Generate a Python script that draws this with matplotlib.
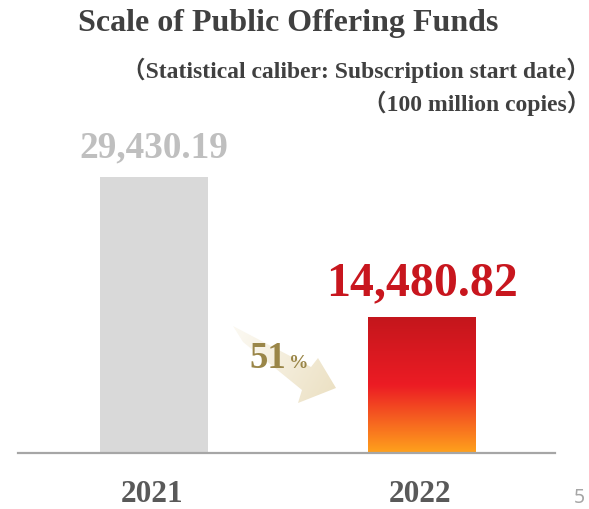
import numpy as np
import matplotlib
matplotlib.use("Agg")
import matplotlib.pyplot as plt
from matplotlib.colors import LinearSegmentedColormap, to_rgb
from matplotlib.patches import Polygon

# ---- data ----
years = ["2021", "2022"]
scale_values = [29430.19, 14480.82]
value_labels = ["29,430.19", "14,480.82"]
decline_pct = "51"
title = "Scale of Public Offering Funds"
subtitle = "（Statistical caliber: Subscription start date）"
unit_note = "（100 million copies）"
page_number = "5"

W, H = 589, 509
fig = plt.figure(figsize=(W / 100, H / 100), dpi=100)
fig.patch.set_facecolor("white")

SERIF = ["Liberation Serif", "Noto Sans CJK SC", "DejaVu Serif"]

# ---- bar axes ----
ax = fig.add_axes([18 / W, (H - 453) / H, (555 - 18) / W, (453 - 100) / H])
ax.set_facecolor("none")
x = np.arange(len(years))
bars = ax.bar(x, scale_values, width=0.402, color=["#D9D9D9", "none"],
              linewidth=0, zorder=2)

# vertical red-to-orange gradient inside the 2022 bar
grad = LinearSegmentedColormap.from_list(
    "redorange", [(0.0, "#FFA21C"), (0.5, "#EC1C24"), (1.0, "#C4161C")])
b = bars[1]
ramp = np.linspace(0, 1, 256).reshape(-1, 1)
im = ax.imshow(ramp, cmap=grad, origin="lower", aspect="auto",
               extent=(b.get_x(), b.get_x() + b.get_width(), 0, b.get_height()),
               zorder=2, interpolation="bilinear")
im.set_clip_path(b)

ax.set_xlim(-0.507, 1.494)
ax.set_ylim(0, max(scale_values) * 353 / 276)

for side in ("top", "left", "right"):
    ax.spines[side].set_visible(False)
ax.spines["bottom"].set_color("#A6A6A6")
ax.spines["bottom"].set_linewidth(1.6)
ax.set_xticks([])
ax.set_yticks([])

# value labels above the bars
label_colors = ["#BFBFBF", "#C8161E"]
label_sizes = [26.8, 34.5]
label_offsets = [14.4, 15.8]
for xi, v, txt, c, s, off in zip(x, scale_values, value_labels,
                                  label_colors, label_sizes, label_offsets):
    ax.annotate(txt, xy=(xi, v), xytext=(0, off), textcoords="offset points",
                ha="center", va="baseline", fontsize=s, fontweight="bold",
                color=c, family=SERIF)

# year labels under the baseline
for xi, yr in zip(x, years):
    ax.annotate(yr, xy=(xi, 0), xytext=(-1.5, -35.2), textcoords="offset points",
                ha="center", va="baseline", fontsize=22.5, fontweight="bold",
                color="#595959", family=SERIF, annotation_clip=False)

# ---- overlay for headings and the decline arrow ----
ov = fig.add_axes([0, 0, 1, 1])
ov.set_xlim(0, W)
ov.set_ylim(H, 0)
ov.axis("off")
ov.set_facecolor("none")

ov.text(78, 31, title, ha="left", va="baseline", fontsize=23,
        fontweight="bold", color="#404040", family=SERIF)
ov.text(590, 78, subtitle, ha="right", va="baseline", fontsize=17,
        fontweight="bold", color="#404040", family=SERIF)
ov.text(590, 111, unit_note, ha="right", va="baseline", fontsize=17,
        fontweight="bold", color="#404040", family=SERIF)

# beige arrow fading towards its tail
arrow_pts = np.array([(233, 326), (311, 367), (318, 358), (336, 388),
                      (298, 403), (302, 390), (243, 342)])
poly = Polygon(arrow_pts, closed=True, facecolor="none", edgecolor="none")
ov.add_patch(poly)
x0, x1 = arrow_pts[:, 0].min() - 2, arrow_pts[:, 0].max() + 2
y0, y1 = arrow_pts[:, 1].min() - 2, arrow_pts[:, 1].max() + 2
gx, gy = np.meshgrid(np.linspace(x0, x1, 200), np.linspace(y0, y1, 200))
tail = np.array([238.0, 334.0])
tip = np.array([336.0, 390.0])
d = tip - tail
t = ((gx - tail[0]) * d[0] + (gy - tail[1]) * d[1]) / (d @ d)
t = np.clip(t, 0, 1)[..., None]
c_tail = np.array(to_rgb("#FBF8F0"))
c_head = np.array(to_rgb("#ECE1C4"))
rgb = c_tail * (1 - t) + c_head * t
aim = ov.imshow(rgb, extent=(x0, x1, y1, y0), origin="upper",
                interpolation="bilinear", zorder=1)
aim.set_clip_path(poly)
ov.set_xlim(0, W)
ov.set_ylim(H, 0)

ov.text(249, 368, decline_pct, ha="left", va="baseline", fontsize=26.5,
        fontweight="bold", color="#9A8648", family=SERIF, zorder=3)
ov.text(289, 368, "%", ha="left", va="baseline", fontsize=14,
        fontweight="bold", color="#9A8648", family=SERIF, zorder=3)

ov.text(579, 503, page_number, ha="center", va="baseline", fontsize=14,
        color="#A6A6A6", family=["Noto Sans", "DejaVu Sans"])

fig.savefig("out.png", dpi=100, facecolor="white")
